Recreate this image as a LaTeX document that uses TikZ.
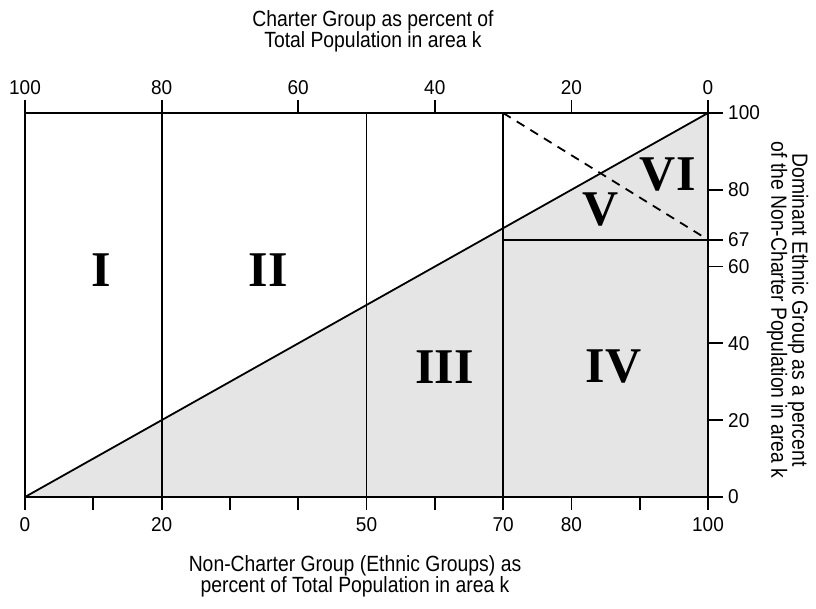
\documentclass[tikz,border=0pt]{standalone}
\usepackage{fontspec}
\setmainfont{Liberation Sans}[FakeStretch=0.88]
\newfontfamily\digitfont{Liberation Sans}[FakeStretch=0.95]
\newfontfamily\numeralfont{Liberation Serif}[BoldFont={Liberation Serif Bold}]
\usepackage{tikz}

\tikzset{
  ticklabel/.style={font=\digitfont\fontsize{20}{20}\selectfont},
  axistitle/.style={align=center,font=\fontsize{22}{21}\selectfont},
  region/.style={font=\numeralfont\bfseries\fontsize{50}{50}\selectfont}
}

\begin{document}
\begin{tikzpicture}[x=6.83pt,y=3.84pt,line width=1.8pt]
\useasboundingbox (-25pt,-112pt) rectangle (791pt,497pt);
\fill[gray!20] (0,0) -- (100,100) -- (100,0) -- cycle;
\draw (0,0) rectangle (100,100);
\draw (0,0) -- (100,100);
\draw (20,0) -- (20,100);
\draw (50,0) -- (50,100);
\draw (70,0) -- (70,100);
\draw (70,67) -- (100,67);
\draw[dashed,dash pattern=on 9pt off 7pt] (70,100) -- (100,67);
% ticks
\foreach \x in {0,10,...,100}
  \draw (\x,0) -- ++(0,-13pt);
\foreach \x in {0,20,50,70,80,100}
  \node[ticklabel] (b\x) at ([yshift=-28pt]\x,0) {\x};
\foreach \x/\l in {0/100,20/80,40/60,60/40,80/20,100/0} {
  \draw (\x,100) -- ++(0,13pt);
  \node[ticklabel,anchor=south] (t\x) at ([yshift=14pt]\x,100) {\l};
}
\foreach \y in {0,20,40,60,67,80,100} {
  \draw (100,\y) -- ++(15pt,0);
  \node[ticklabel,anchor=west] (r\y) at ([xshift=16pt]100,\y) {\y};
}
% titles
\node[axistitle] (toptitle) at (348pt,465.5pt) {Charter Group as percent of\\Total Population in area k};
\node[axistitle] (bottomtitle) at (330pt,-79pt) {Non-Charter Group (Ethnic Groups) as\\percent of Total Population in area k};
\node[axistitle,rotate=-90] (sidetitle) at (762.5pt,187pt) {Dominant Ethnic Group as a percent\\of the Non-Charter Population in area k};
% regions
\node[region] (I) at (11.1,59) {I};
\node[region] (II) at (35.6,59) {II};
\node[region] (III) at (61.4,33.9) {III};
\node[region] (IV) at (86.2,33.9) {IV};
\node[region] (V) at (84.2,74.9) {V};
\node[region] (VI) at (94.1,84.1) {VI};
\end{tikzpicture}
\end{document}
